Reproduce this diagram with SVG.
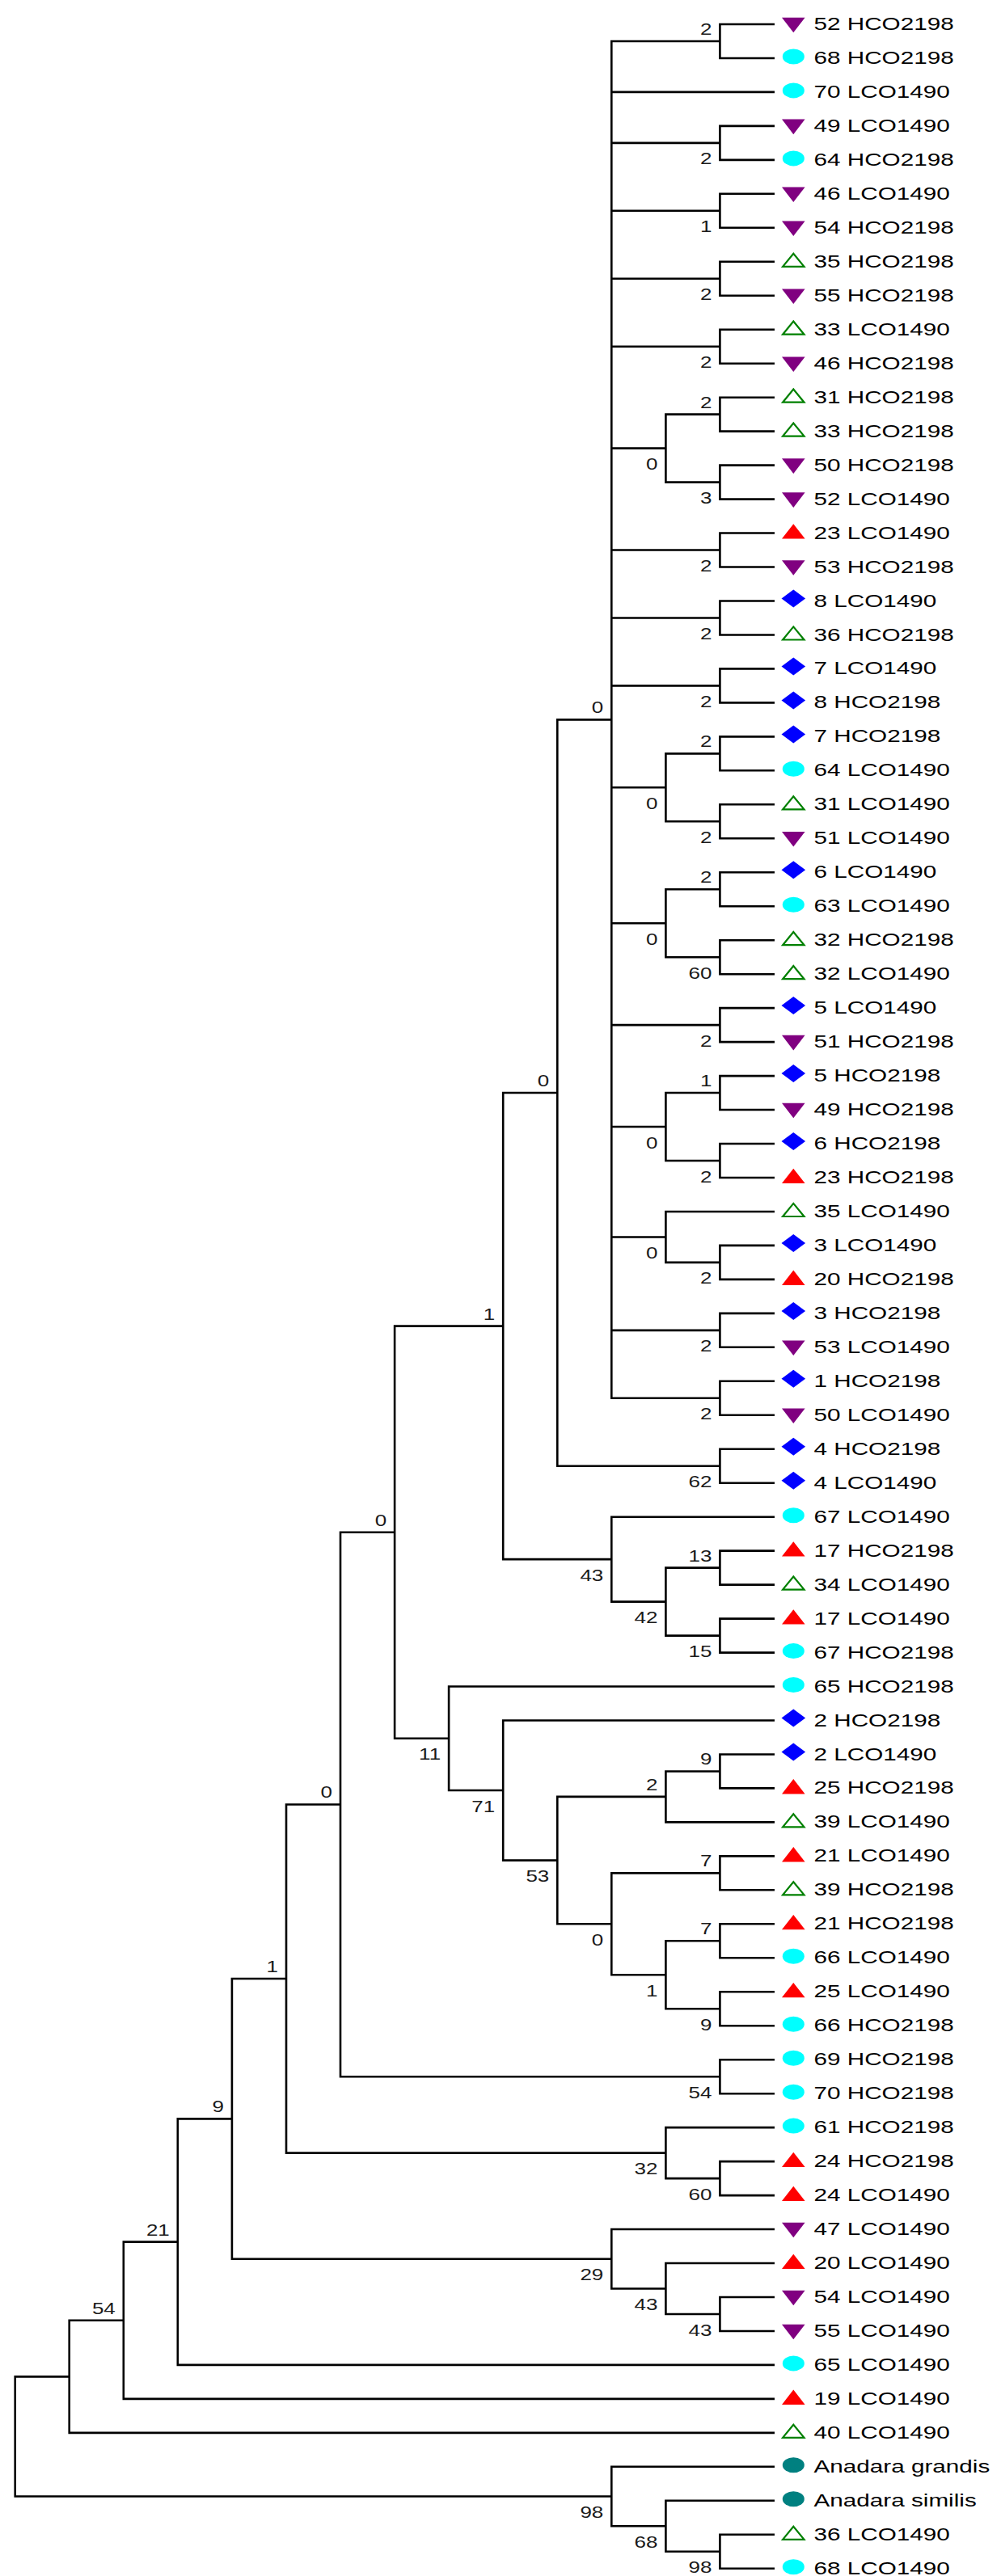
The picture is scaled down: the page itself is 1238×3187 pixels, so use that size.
<svg xmlns="http://www.w3.org/2000/svg" width="1238" height="3187" viewBox="0 0 1238 3187">
<style>
.br{fill:none;stroke:#000;stroke-width:2.6;stroke-linecap:butt;stroke-linejoin:miter}
.lbl{font-family:"Liberation Sans",Arial,sans-serif;font-size:22.5px;fill:#000}
.bs{font-family:"Liberation Sans",Arial,sans-serif;font-size:20px;fill:#1a1a1a;text-anchor:end}
</style>
<defs>
<polygon id="dn" points="-14.3,-8.3 14.3,-8.3 0,10.3" fill="#800080"/>
<polygon id="up" points="-14.3,7 14.3,7 0,-11.3" fill="#ff0000"/>
<polygon id="upo" points="-13.2,6 13.2,6 0,-10.1" fill="#fff" stroke="#008000" stroke-width="2.2"/>
<polygon id="dia" points="-14.8,-3 0,-14 14.8,-3 0,8" fill="#0000ff"/>
<ellipse id="cy" cx="0" cy="-2" rx="13.5" ry="9.5" fill="#00ffff"/>
<ellipse id="tl" cx="0" cy="-2" rx="13.5" ry="9.5" fill="#008080"/>
</defs>
<rect width="1238" height="3187" fill="#fff"/>
<g id="connectors" class="br">
<path d="M958 30H890.4V72H958"/>
<path d="M958 155.9H890.4V197.9H958"/>
<path d="M958 239.8H890.4V281.8H958"/>
<path d="M958 323.8H890.4V365.8H958"/>
<path d="M958 407.7H890.4V449.7H958"/>
<path d="M958 491.7H890.4V533.6H958"/>
<path d="M958 575.6H890.4V617.6H958"/>
<path d="M890.4 512.65H823.4V596.6H890.4"/>
<path d="M958 659.5H890.4V701.5H958"/>
<path d="M958 743.5H890.4V785.5H958"/>
<path d="M958 827.4H890.4V869.4H958"/>
<path d="M958 911.4H890.4V953.3H958"/>
<path d="M958 995.3H890.4V1037.3H958"/>
<path d="M890.4 932.35H823.4V1016.3H890.4"/>
<path d="M958 1079.3H890.4V1121.2H958"/>
<path d="M958 1163.2H890.4V1205.2H958"/>
<path d="M890.4 1100.25H823.4V1184.2H890.4"/>
<path d="M958 1247.1H890.4V1289.1H958"/>
<path d="M958 1331.1H890.4V1373H958"/>
<path d="M958 1415H890.4V1457H958"/>
<path d="M890.4 1352.05H823.4V1436H890.4"/>
<path d="M958 1540.9H890.4V1582.9H958"/>
<path d="M958 1499H823.4V1561.9H890.4"/>
<path d="M958 1624.9H890.4V1666.8H958"/>
<path d="M958 1708.8H890.4V1750.8H958"/>
<path d="M890.4 51H756.3V1729.8H890.4M756.3 113.9H958M756.3 176.9H890.4M756.3 260.8H890.4M756.3 344.8H890.4M756.3 428.7H890.4M756.3 554.6H823.4M756.3 680.5H890.4M756.3 764.5H890.4M756.3 848.4H890.4M756.3 974.3H823.4M756.3 1142.2H823.4M756.3 1268.1H890.4M756.3 1394H823.4M756.3 1530.45H823.4M756.3 1645.85H890.4"/>
<path d="M958 1792.7H890.4V1834.7H958"/>
<path d="M756.3 890.4H689.3V1813.7H890.4"/>
<path d="M958 1918.6H890.4V1960.6H958"/>
<path d="M958 2002.6H890.4V2044.6H958"/>
<path d="M890.4 1939.6H823.4V2023.6H890.4"/>
<path d="M958 1876.7H756.3V1981.6H823.4"/>
<path d="M689.3 1352.05H622.2V1929.15H756.3"/>
<path d="M958 2170.5H890.4V2212.4H958"/>
<path d="M890.4 2191.45H823.4V2254.4H958"/>
<path d="M958 2296.4H890.4V2338.3H958"/>
<path d="M958 2380.3H890.4V2422.3H958"/>
<path d="M958 2464.3H890.4V2506.2H958"/>
<path d="M890.4 2401.3H823.4V2485.25H890.4"/>
<path d="M890.4 2317.35H756.3V2443.3H823.4"/>
<path d="M823.4 2222.9H689.3V2380.3H756.3"/>
<path d="M958 2128.5H622.2V2301.6H689.3"/>
<path d="M958 2086.5H555.1V2215.05H622.2"/>
<path d="M622.2 1640.6H488.1V2150.8H555.1"/>
<path d="M958 2548.2H890.4V2590.2H958"/>
<path d="M488.1 1895.7H421V2569.2H890.4"/>
<path d="M958 2674.1H890.4V2716.1H958"/>
<path d="M958 2632.1H823.4V2695.1H890.4"/>
<path d="M421 2232.45H354V2663.6H823.4"/>
<path d="M958 2842H890.4V2884H958"/>
<path d="M958 2800H823.4V2863H890.4"/>
<path d="M958 2758H756.3V2831.5H823.4"/>
<path d="M354 2448H286.9V2794.75H756.3"/>
<path d="M286.9 2621.4H219.8V2925.9H958"/>
<path d="M219.8 2773.65H152.8V2967.9H958"/>
<path d="M152.8 2870.8H85.7V3009.9H958"/>
<path d="M958 3135.8H890.4V3177.8H958"/>
<path d="M958 3093.8H823.4V3156.8H890.4"/>
<path d="M958 3051.8H756.3V3125.3H823.4"/>
<path d="M85.7 2940.35H18.7V3088.55H756.3"/>
</g>
<g id="support-values" class="bs">
<text transform="translate(880.4 43) scale(1.3 1)">2</text>
<text transform="translate(880.4 203.4) scale(1.3 1)">2</text>
<text transform="translate(880.4 287.3) scale(1.3 1)">1</text>
<text transform="translate(880.4 371.3) scale(1.3 1)">2</text>
<text transform="translate(880.4 455.2) scale(1.3 1)">2</text>
<text transform="translate(880.4 504.65) scale(1.3 1)">2</text>
<text transform="translate(880.4 623.1) scale(1.3 1)">3</text>
<text transform="translate(813.4 581.1) scale(1.3 1)">0</text>
<text transform="translate(880.4 707) scale(1.3 1)">2</text>
<text transform="translate(880.4 791) scale(1.3 1)">2</text>
<text transform="translate(880.4 874.9) scale(1.3 1)">2</text>
<text transform="translate(880.4 924.35) scale(1.3 1)">2</text>
<text transform="translate(880.4 1042.8) scale(1.3 1)">2</text>
<text transform="translate(813.4 1000.8) scale(1.3 1)">0</text>
<text transform="translate(880.4 1092.25) scale(1.3 1)">2</text>
<text transform="translate(880.4 1210.7) scale(1.3 1)">60</text>
<text transform="translate(813.4 1168.7) scale(1.3 1)">0</text>
<text transform="translate(880.4 1294.6) scale(1.3 1)">2</text>
<text transform="translate(880.4 1344.05) scale(1.3 1)">1</text>
<text transform="translate(880.4 1462.5) scale(1.3 1)">2</text>
<text transform="translate(813.4 1420.5) scale(1.3 1)">0</text>
<text transform="translate(880.4 1588.4) scale(1.3 1)">2</text>
<text transform="translate(813.4 1556.95) scale(1.3 1)">0</text>
<text transform="translate(880.4 1672.35) scale(1.3 1)">2</text>
<text transform="translate(880.4 1756.3) scale(1.3 1)">2</text>
<text transform="translate(746.3 882.4) scale(1.3 1)">0</text>
<text transform="translate(880.4 1840.2) scale(1.3 1)">62</text>
<text transform="translate(679.3 1344.05) scale(1.3 1)">0</text>
<text transform="translate(880.4 1931.6) scale(1.3 1)">13</text>
<text transform="translate(880.4 2050.1) scale(1.3 1)">15</text>
<text transform="translate(813.4 2008.1) scale(1.3 1)">42</text>
<text transform="translate(746.3 1955.65) scale(1.3 1)">43</text>
<text transform="translate(612.2 1632.6) scale(1.3 1)">1</text>
<text transform="translate(880.4 2183.45) scale(1.3 1)">9</text>
<text transform="translate(813.4 2214.9) scale(1.3 1)">2</text>
<text transform="translate(880.4 2309.35) scale(1.3 1)">7</text>
<text transform="translate(880.4 2393.3) scale(1.3 1)">7</text>
<text transform="translate(880.4 2511.75) scale(1.3 1)">9</text>
<text transform="translate(813.4 2469.8) scale(1.3 1)">1</text>
<text transform="translate(746.3 2406.8) scale(1.3 1)">0</text>
<text transform="translate(679.3 2328.1) scale(1.3 1)">53</text>
<text transform="translate(612.2 2241.55) scale(1.3 1)">71</text>
<text transform="translate(545.1 2177.3) scale(1.3 1)">11</text>
<text transform="translate(478.1 1887.7) scale(1.3 1)">0</text>
<text transform="translate(880.4 2595.7) scale(1.3 1)">54</text>
<text transform="translate(411 2224.45) scale(1.3 1)">0</text>
<text transform="translate(880.4 2721.6) scale(1.3 1)">60</text>
<text transform="translate(813.4 2690.1) scale(1.3 1)">32</text>
<text transform="translate(344 2440) scale(1.3 1)">1</text>
<text transform="translate(880.4 2889.5) scale(1.3 1)">43</text>
<text transform="translate(813.4 2858) scale(1.3 1)">43</text>
<text transform="translate(746.3 2821.25) scale(1.3 1)">29</text>
<text transform="translate(276.9 2613.4) scale(1.3 1)">9</text>
<text transform="translate(209.8 2765.65) scale(1.3 1)">21</text>
<text transform="translate(142.8 2862.8) scale(1.3 1)">54</text>
<text transform="translate(880.4 3183.3) scale(1.3 1)">98</text>
<text transform="translate(813.4 3151.8) scale(1.3 1)">68</text>
<text transform="translate(746.3 3115.05) scale(1.3 1)">98</text>
</g>
<g id="leaves" class="lbl">
<g id="leaf-1"><use href="#dn" x="981.3" y="30"/><text transform="translate(1006.5 37) scale(1.32 1)">52 HCO2198</text></g>
<g id="leaf-2"><use href="#cy" x="981.3" y="72"/><text transform="translate(1006.5 79) scale(1.32 1)">68 HCO2198</text></g>
<g id="leaf-3"><use href="#cy" x="981.3" y="113.9"/><text transform="translate(1006.5 120.9) scale(1.32 1)">70 LCO1490</text></g>
<g id="leaf-4"><use href="#dn" x="981.3" y="155.9"/><text transform="translate(1006.5 162.9) scale(1.32 1)">49 LCO1490</text></g>
<g id="leaf-5"><use href="#cy" x="981.3" y="197.9"/><text transform="translate(1006.5 204.9) scale(1.32 1)">64 HCO2198</text></g>
<g id="leaf-6"><use href="#dn" x="981.3" y="239.8"/><text transform="translate(1006.5 246.8) scale(1.32 1)">46 LCO1490</text></g>
<g id="leaf-7"><use href="#dn" x="981.3" y="281.8"/><text transform="translate(1006.5 288.8) scale(1.32 1)">54 HCO2198</text></g>
<g id="leaf-8"><use href="#upo" x="981.3" y="323.8"/><text transform="translate(1006.5 330.8) scale(1.32 1)">35 HCO2198</text></g>
<g id="leaf-9"><use href="#dn" x="981.3" y="365.8"/><text transform="translate(1006.5 372.8) scale(1.32 1)">55 HCO2198</text></g>
<g id="leaf-10"><use href="#upo" x="981.3" y="407.7"/><text transform="translate(1006.5 414.7) scale(1.32 1)">33 LCO1490</text></g>
<g id="leaf-11"><use href="#dn" x="981.3" y="449.7"/><text transform="translate(1006.5 456.7) scale(1.32 1)">46 HCO2198</text></g>
<g id="leaf-12"><use href="#upo" x="981.3" y="491.7"/><text transform="translate(1006.5 498.7) scale(1.32 1)">31 HCO2198</text></g>
<g id="leaf-13"><use href="#upo" x="981.3" y="533.6"/><text transform="translate(1006.5 540.6) scale(1.32 1)">33 HCO2198</text></g>
<g id="leaf-14"><use href="#dn" x="981.3" y="575.6"/><text transform="translate(1006.5 582.6) scale(1.32 1)">50 HCO2198</text></g>
<g id="leaf-15"><use href="#dn" x="981.3" y="617.6"/><text transform="translate(1006.5 624.6) scale(1.32 1)">52 LCO1490</text></g>
<g id="leaf-16"><use href="#up" x="981.3" y="659.5"/><text transform="translate(1006.5 666.5) scale(1.32 1)">23 LCO1490</text></g>
<g id="leaf-17"><use href="#dn" x="981.3" y="701.5"/><text transform="translate(1006.5 708.5) scale(1.32 1)">53 HCO2198</text></g>
<g id="leaf-18"><use href="#dia" x="981.3" y="743.5"/><text transform="translate(1006.5 750.5) scale(1.32 1)">8 LCO1490</text></g>
<g id="leaf-19"><use href="#upo" x="981.3" y="785.5"/><text transform="translate(1006.5 792.5) scale(1.32 1)">36 HCO2198</text></g>
<g id="leaf-20"><use href="#dia" x="981.3" y="827.4"/><text transform="translate(1006.5 834.4) scale(1.32 1)">7 LCO1490</text></g>
<g id="leaf-21"><use href="#dia" x="981.3" y="869.4"/><text transform="translate(1006.5 876.4) scale(1.32 1)">8 HCO2198</text></g>
<g id="leaf-22"><use href="#dia" x="981.3" y="911.4"/><text transform="translate(1006.5 918.4) scale(1.32 1)">7 HCO2198</text></g>
<g id="leaf-23"><use href="#cy" x="981.3" y="953.3"/><text transform="translate(1006.5 960.3) scale(1.32 1)">64 LCO1490</text></g>
<g id="leaf-24"><use href="#upo" x="981.3" y="995.3"/><text transform="translate(1006.5 1002.3) scale(1.32 1)">31 LCO1490</text></g>
<g id="leaf-25"><use href="#dn" x="981.3" y="1037.3"/><text transform="translate(1006.5 1044.3) scale(1.32 1)">51 LCO1490</text></g>
<g id="leaf-26"><use href="#dia" x="981.3" y="1079.3"/><text transform="translate(1006.5 1086.3) scale(1.32 1)">6 LCO1490</text></g>
<g id="leaf-27"><use href="#cy" x="981.3" y="1121.2"/><text transform="translate(1006.5 1128.2) scale(1.32 1)">63 LCO1490</text></g>
<g id="leaf-28"><use href="#upo" x="981.3" y="1163.2"/><text transform="translate(1006.5 1170.2) scale(1.32 1)">32 HCO2198</text></g>
<g id="leaf-29"><use href="#upo" x="981.3" y="1205.2"/><text transform="translate(1006.5 1212.2) scale(1.32 1)">32 LCO1490</text></g>
<g id="leaf-30"><use href="#dia" x="981.3" y="1247.1"/><text transform="translate(1006.5 1254.1) scale(1.32 1)">5 LCO1490</text></g>
<g id="leaf-31"><use href="#dn" x="981.3" y="1289.1"/><text transform="translate(1006.5 1296.1) scale(1.32 1)">51 HCO2198</text></g>
<g id="leaf-32"><use href="#dia" x="981.3" y="1331.1"/><text transform="translate(1006.5 1338.1) scale(1.32 1)">5 HCO2198</text></g>
<g id="leaf-33"><use href="#dn" x="981.3" y="1373"/><text transform="translate(1006.5 1380) scale(1.32 1)">49 HCO2198</text></g>
<g id="leaf-34"><use href="#dia" x="981.3" y="1415"/><text transform="translate(1006.5 1422) scale(1.32 1)">6 HCO2198</text></g>
<g id="leaf-35"><use href="#up" x="981.3" y="1457"/><text transform="translate(1006.5 1464) scale(1.32 1)">23 HCO2198</text></g>
<g id="leaf-36"><use href="#upo" x="981.3" y="1499"/><text transform="translate(1006.5 1506) scale(1.32 1)">35 LCO1490</text></g>
<g id="leaf-37"><use href="#dia" x="981.3" y="1540.9"/><text transform="translate(1006.5 1547.9) scale(1.32 1)">3 LCO1490</text></g>
<g id="leaf-38"><use href="#up" x="981.3" y="1582.9"/><text transform="translate(1006.5 1589.9) scale(1.32 1)">20 HCO2198</text></g>
<g id="leaf-39"><use href="#dia" x="981.3" y="1624.9"/><text transform="translate(1006.5 1631.9) scale(1.32 1)">3 HCO2198</text></g>
<g id="leaf-40"><use href="#dn" x="981.3" y="1666.8"/><text transform="translate(1006.5 1673.8) scale(1.32 1)">53 LCO1490</text></g>
<g id="leaf-41"><use href="#dia" x="981.3" y="1708.8"/><text transform="translate(1006.5 1715.8) scale(1.32 1)">1 HCO2198</text></g>
<g id="leaf-42"><use href="#dn" x="981.3" y="1750.8"/><text transform="translate(1006.5 1757.8) scale(1.32 1)">50 LCO1490</text></g>
<g id="leaf-43"><use href="#dia" x="981.3" y="1792.7"/><text transform="translate(1006.5 1799.7) scale(1.32 1)">4 HCO2198</text></g>
<g id="leaf-44"><use href="#dia" x="981.3" y="1834.7"/><text transform="translate(1006.5 1841.7) scale(1.32 1)">4 LCO1490</text></g>
<g id="leaf-45"><use href="#cy" x="981.3" y="1876.7"/><text transform="translate(1006.5 1883.7) scale(1.32 1)">67 LCO1490</text></g>
<g id="leaf-46"><use href="#up" x="981.3" y="1918.6"/><text transform="translate(1006.5 1925.6) scale(1.32 1)">17 HCO2198</text></g>
<g id="leaf-47"><use href="#upo" x="981.3" y="1960.6"/><text transform="translate(1006.5 1967.6) scale(1.32 1)">34 LCO1490</text></g>
<g id="leaf-48"><use href="#up" x="981.3" y="2002.6"/><text transform="translate(1006.5 2009.6) scale(1.32 1)">17 LCO1490</text></g>
<g id="leaf-49"><use href="#cy" x="981.3" y="2044.6"/><text transform="translate(1006.5 2051.6) scale(1.32 1)">67 HCO2198</text></g>
<g id="leaf-50"><use href="#cy" x="981.3" y="2086.5"/><text transform="translate(1006.5 2093.5) scale(1.32 1)">65 HCO2198</text></g>
<g id="leaf-51"><use href="#dia" x="981.3" y="2128.5"/><text transform="translate(1006.5 2135.5) scale(1.32 1)">2 HCO2198</text></g>
<g id="leaf-52"><use href="#dia" x="981.3" y="2170.5"/><text transform="translate(1006.5 2177.5) scale(1.32 1)">2 LCO1490</text></g>
<g id="leaf-53"><use href="#up" x="981.3" y="2212.4"/><text transform="translate(1006.5 2219.4) scale(1.32 1)">25 HCO2198</text></g>
<g id="leaf-54"><use href="#upo" x="981.3" y="2254.4"/><text transform="translate(1006.5 2261.4) scale(1.32 1)">39 LCO1490</text></g>
<g id="leaf-55"><use href="#up" x="981.3" y="2296.4"/><text transform="translate(1006.5 2303.4) scale(1.32 1)">21 LCO1490</text></g>
<g id="leaf-56"><use href="#upo" x="981.3" y="2338.3"/><text transform="translate(1006.5 2345.3) scale(1.32 1)">39 HCO2198</text></g>
<g id="leaf-57"><use href="#up" x="981.3" y="2380.3"/><text transform="translate(1006.5 2387.3) scale(1.32 1)">21 HCO2198</text></g>
<g id="leaf-58"><use href="#cy" x="981.3" y="2422.3"/><text transform="translate(1006.5 2429.3) scale(1.32 1)">66 LCO1490</text></g>
<g id="leaf-59"><use href="#up" x="981.3" y="2464.3"/><text transform="translate(1006.5 2471.3) scale(1.32 1)">25 LCO1490</text></g>
<g id="leaf-60"><use href="#cy" x="981.3" y="2506.2"/><text transform="translate(1006.5 2513.2) scale(1.32 1)">66 HCO2198</text></g>
<g id="leaf-61"><use href="#cy" x="981.3" y="2548.2"/><text transform="translate(1006.5 2555.2) scale(1.32 1)">69 HCO2198</text></g>
<g id="leaf-62"><use href="#cy" x="981.3" y="2590.2"/><text transform="translate(1006.5 2597.2) scale(1.32 1)">70 HCO2198</text></g>
<g id="leaf-63"><use href="#cy" x="981.3" y="2632.1"/><text transform="translate(1006.5 2639.1) scale(1.32 1)">61 HCO2198</text></g>
<g id="leaf-64"><use href="#up" x="981.3" y="2674.1"/><text transform="translate(1006.5 2681.1) scale(1.32 1)">24 HCO2198</text></g>
<g id="leaf-65"><use href="#up" x="981.3" y="2716.1"/><text transform="translate(1006.5 2723.1) scale(1.32 1)">24 LCO1490</text></g>
<g id="leaf-66"><use href="#dn" x="981.3" y="2758"/><text transform="translate(1006.5 2765) scale(1.32 1)">47 LCO1490</text></g>
<g id="leaf-67"><use href="#up" x="981.3" y="2800"/><text transform="translate(1006.5 2807) scale(1.32 1)">20 LCO1490</text></g>
<g id="leaf-68"><use href="#dn" x="981.3" y="2842"/><text transform="translate(1006.5 2849) scale(1.32 1)">54 LCO1490</text></g>
<g id="leaf-69"><use href="#dn" x="981.3" y="2884"/><text transform="translate(1006.5 2891) scale(1.32 1)">55 LCO1490</text></g>
<g id="leaf-70"><use href="#cy" x="981.3" y="2925.9"/><text transform="translate(1006.5 2932.9) scale(1.32 1)">65 LCO1490</text></g>
<g id="leaf-71"><use href="#up" x="981.3" y="2967.9"/><text transform="translate(1006.5 2974.9) scale(1.32 1)">19 LCO1490</text></g>
<g id="leaf-72"><use href="#upo" x="981.3" y="3009.9"/><text transform="translate(1006.5 3016.9) scale(1.32 1)">40 LCO1490</text></g>
<g id="leaf-73"><use href="#tl" x="981.3" y="3051.8"/><text transform="translate(1006.5 3058.8) scale(1.32 1)">Anadara grandis</text></g>
<g id="leaf-74"><use href="#tl" x="981.3" y="3093.8"/><text transform="translate(1006.5 3100.8) scale(1.32 1)">Anadara similis</text></g>
<g id="leaf-75"><use href="#upo" x="981.3" y="3135.8"/><text transform="translate(1006.5 3142.8) scale(1.32 1)">36 LCO1490</text></g>
<g id="leaf-76"><use href="#cy" x="981.3" y="3177.8"/><text transform="translate(1006.5 3184.8) scale(1.32 1)">68 LCO1490</text></g>
</g>
</svg>
